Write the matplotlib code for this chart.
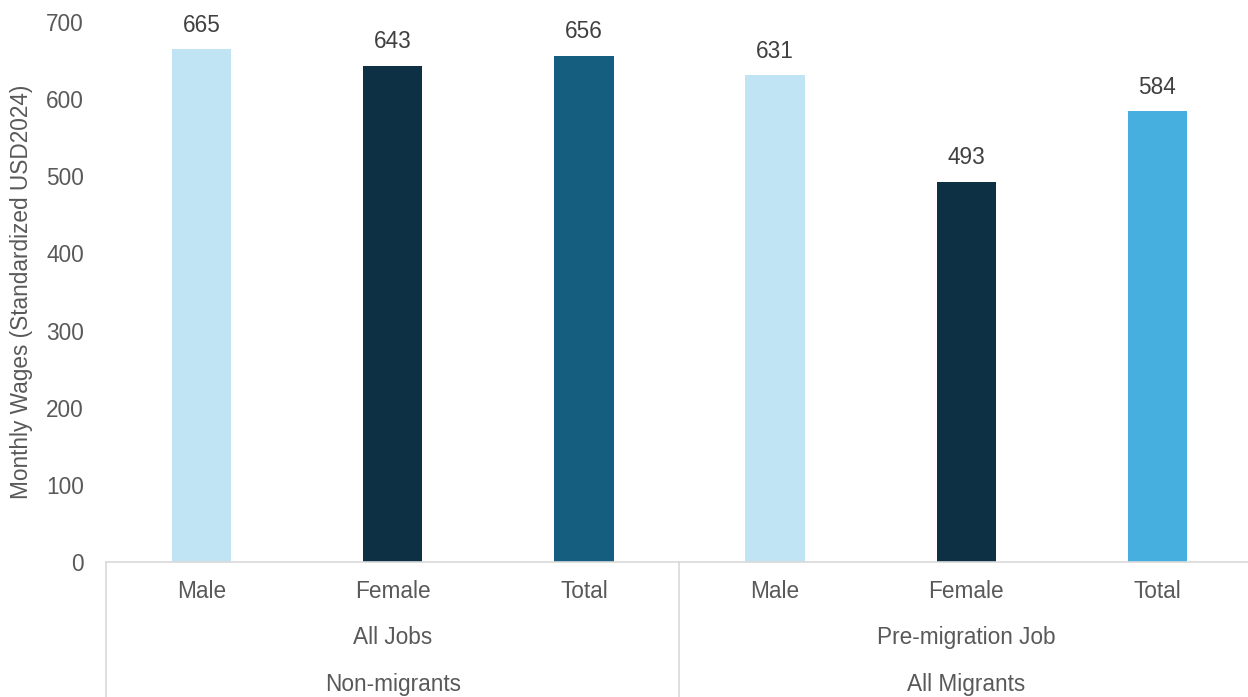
import matplotlib.pyplot as plt

# data
categories = ['Male', 'Female', 'Total', 'Male', 'Female', 'Total']
wages = [665, 643, 656, 631, 493, 584]
bar_colors = ['#C1E4F5', '#0D3045', '#165E80', '#C1E4F5', '#0D3045', '#47AEE0']
job_groups = ['All Jobs', 'Pre-migration Job']
people_groups = ['Non-migrants', 'All Migrants']

plt.rcParams['font.family'] = ['Liberation Sans', 'DejaVu Sans']
fs = 16.3

fig = plt.figure(figsize=(12.48, 6.97), dpi=100)
ax = fig.add_axes([106 / 1248, 1 - 562 / 697, 1147 / 1248, 540 / 697])

x = list(range(len(categories)))
bars = ax.bar(x, wages, width=0.31, color=bar_colors)

for i, v in enumerate(wages):
    ax.annotate(str(v), (i, v), xytext=(0, 9), textcoords='offset points',
                ha='center', va='bottom', fontsize=fs, color='#404040')

ax.set_xlim(-0.5, 5.5)
ax.set_ylim(0, 700)
ax.set_yticks(range(0, 701, 100))
ax.tick_params(axis='y', length=0, labelsize=fs, labelcolor='#595959', pad=16)
ax.set_xticks([])

for s in ['top', 'right', 'left']:
    ax.spines[s].set_visible(False)
ax.spines['bottom'].set_color('#D9D9D9')
ax.spines['bottom'].set_linewidth(1.2)

ax.set_ylabel('Monthly Wages (Standardized USD2024)', fontsize=fs, color='#595959', labelpad=9)

tr = ax.get_xaxis_transform()
for i, c in enumerate(categories):
    ax.text(i, -0.054, c, transform=tr, ha='center', va='center', fontsize=fs, color='#595959')
for g in range(2):
    mid = g * 3 + 1
    ax.text(mid, -0.139, job_groups[g], transform=tr, ha='center', va='center', fontsize=fs, color='#595959')
    ax.text(mid, -0.226, people_groups[g], transform=tr, ha='center', va='center', fontsize=fs, color='#595959')

for xs in [-0.5, 2.5]:
    ax.plot([xs, xs], [0, -0.26], transform=tr, color='#D9D9D9', lw=1.2, clip_on=False)

fig.savefig('out.png', dpi=100)
